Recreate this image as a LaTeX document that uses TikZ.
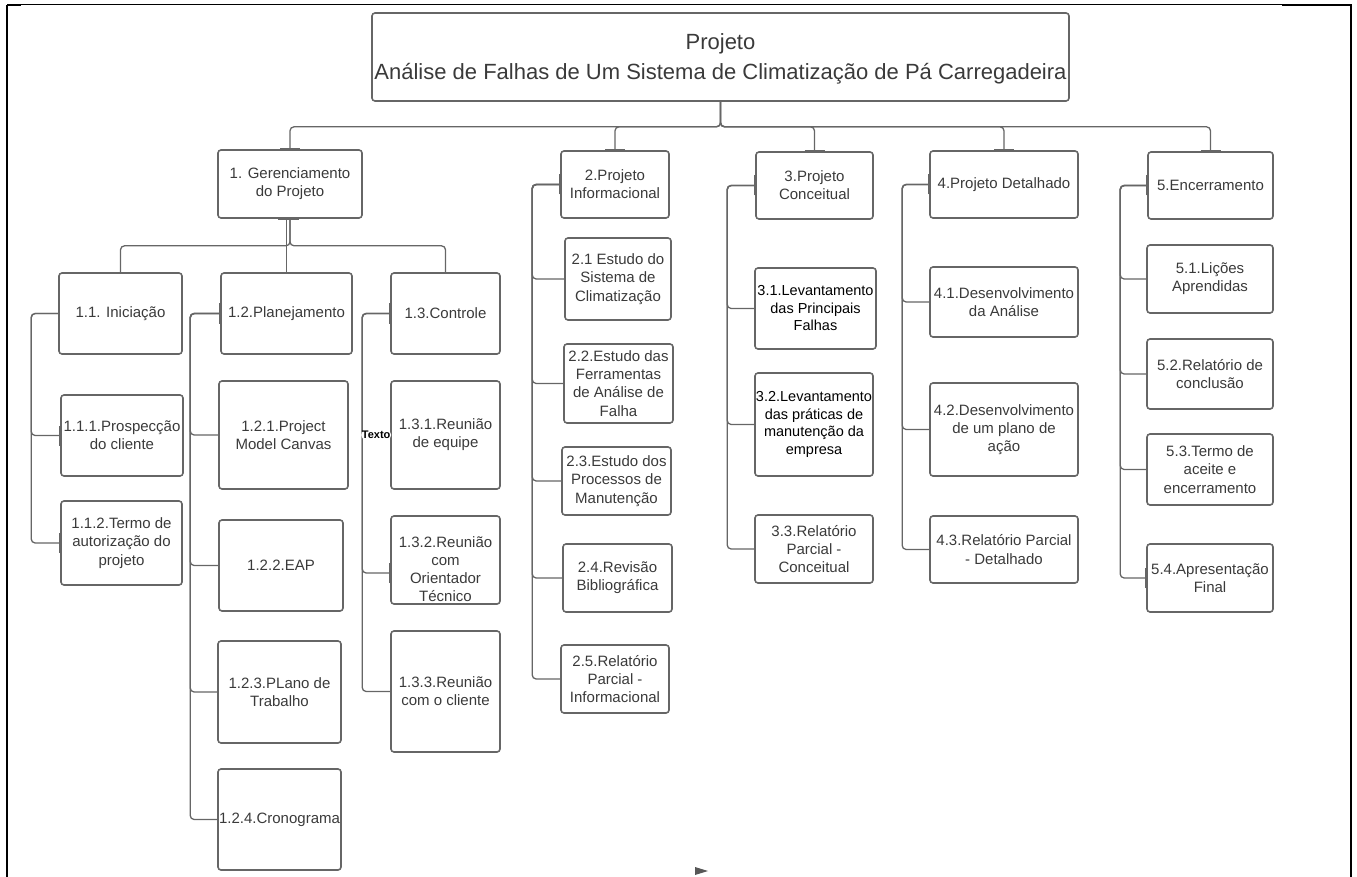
\documentclass[tikz,border=0pt]{standalone}
\usepackage{fontspec}
\setmainfont{Liberation Sans}
\usetikzlibrary{calc}
\definecolor{ln}{HTML}{666666}
\definecolor{tx}{HTML}{3A3A3A}
\newcommand\bx[7][]{\node[box,#1,minimum width={#4-#2},minimum height={#5-#3}] (#6) at ({(#2+#4)/2},{(#3+#5)/2}) {#7};}
\begin{document}
\begin{tikzpicture}[x=1pt,y=-1pt,
  box/.style={draw=ln,line width=1.6pt,rounded corners=3pt,text=tx,align=center,inner sep=0pt,font=\fontsize{15}{18.2}\selectfont},
  dark/.style={text=black,font=\fontsize{14.5}{17.5}\selectfont},
  conn/.style={draw=ln,line width=1.3pt,rounded corners=4pt},
  tick/.style={draw=ln,line width=3pt},
  lbl/.style={fill=white,inner sep=0.6pt,text=black,font=\bfseries\fontsize{11}{13}\selectfont}]
\useasboundingbox (0,0) rectangle (1357,877);
% frame
\draw[line width=2.5pt] (7,877) -- (7,5);
\draw[line width=1pt] (7,5) -- (1282,5);
\draw[line width=2.5pt] (7,5) -- (21,5);
\draw[line width=2.5pt] (1282,5) -- (1351,5) -- (1351,877);
% nodes
\bx[font=\fontsize{22}{30}\selectfont]{372}{13}{1069}{101}{title}{\rule{0pt}{19pt}Projeto\\Análise de Falhas de Um Sistema de Climatização de Pá Carregadeira}
\bx{218}{150}{362}{218}{n1}{1. Gerenciamento\\do Projeto}
\bx{59}{273}{182}{354}{n11}{1.1. Iniciação}
\bx{61}{395}{183}{476}{n111}{1.1.1.Prospecção\\do cliente}
\bx{61}{501}{182}{585}{n112}{1.1.2.Termo de\\autorização do\\projeto}
\bx{221}{273}{352}{354}{n12}{1.2.Planejamento}
\bx{219}{381}{348}{489}{n121}{1.2.1.Project\\Model Canvas}
\bx{219}{520}{343}{611}{n122}{1.2.2.EAP}
\bx{218}{641}{341}{743}{n123}{1.2.3.PLano de\\Trabalho}
\bx{218}{769}{341}{870}{n124}{1.2.4.Cronograma}
\bx{391}{273}{500}{354}{n13}{1.3.Controle}
\bx{391}{381}{500}{489}{n131}{1.3.1.Reunião\\de equipe}
\bx{391}{516}{500}{604}{n132}{\rule{0pt}{29pt}1.3.2.Reunião\\com\\Orientador\\Técnico}
\bx{391}{631}{500}{752}{n133}{1.3.3.Reunião\\com o cliente}
\bx{561}{151}{669}{218}{n2}{2.Projeto\\Informacional}
\bx{565}{238}{671}{320}{n21}{2.1 Estudo do\\Sistema de\\Climatização}
\bx{564}{344}{673}{423}{n22}{2.2.Estudo das\\Ferramentas\\de Análise de\\Falha}
\bx{562}{447}{671}{515}{n23}{2.3.Estudo dos\\Processos de\\Manutenção}
\bx{563}{544}{672}{612}{n24}{2.4.Revisão\\Bibliográfica}
\bx{561}{645}{669}{713}{n25}{2.5.Relatório\\Parcial -\\Informacional}
\bx{756}{152}{873}{219}{n3}{3.Projeto\\Conceitual}
\bx[dark]{755}{268}{876}{349}{n31}{3.1.Levantamento\\das Principais\\Falhas}
\bx[dark]{755}{373}{873}{476}{n32}{3.2.Levantamento\\das práticas de\\manutenção da\\empresa}
\bx{755}{515}{873}{583}{n33}{3.3.Relatório\\Parcial -\\Conceitual}
\bx{930}{151}{1078}{218}{n4}{4.Projeto Detalhado}
\bx{930}{267}{1078}{337}{n41}{4.1.Desenvolvimento\\da Análise}
\bx{930}{383}{1078}{476}{n42}{4.2.Desenvolvimento\\de um plano de\\ação}
\bx{930}{516}{1078}{583}{n43}{4.3.Relatório Parcial\\- Detalhado}
\bx{1148}{152}{1273}{219}{n5}{5.Encerramento}
\bx{1147}{245}{1273}{313}{n51}{5.1.Lições\\Aprendidas}
\bx{1147}{339}{1273}{409}{n52}{5.2.Relatório de\\conclusão}
\bx{1147}{434}{1273}{505}{n53}{5.3.Termo de\\aceite e\\encerramento}
\bx{1147}{544}{1273}{612}{n54}{5.4.Apresentação\\Final}
% top level connectors
\coordinate (hub) at ($(title.south)+(0,25)$);
\foreach \n in {n1,n2,n3,n4,n5} \draw[conn] (title.south) -- (hub) -| (\n.north);
\coordinate (hub1) at ($(n1.south)+(0,27)$);
\draw[conn] (n1.south) -- (hub1) -| (n11.north);
\draw[conn] (n1.south) -- (hub1) -| (n13.north);
\draw[conn] (n12.north |- n1.south) -- (n12.north);
% branch connectors
\foreach \c in {n111,n112} \draw[conn] (n11.west) -- ++(-27,0) |- (\c.west);
\foreach \c in {n121,n122,n123,n124} \draw[conn] (n12.west) -- ++(-30,0) |- (\c.west);
\draw[conn] (n13.west) -- ++(-28,0) |- ([yshift=-13pt]n132.west);
\draw[conn] (n13.west) -- ++(-28,0) |- (n133.west);
\draw[conn] (n13.west) -- ++(-28,0) |- node[lbl,pos=0.75]{Texto} (n131.west);
\foreach \c in {n21,n22,n23,n24,n25} \draw[conn] (n2.west) -- ++(-28,0) |- (\c.west);
\foreach \c in {n31,n32,n33} \draw[conn] (n3.west) -- ++(-28,0) |- (\c.west);
\foreach \c in {n41,n42,n43} \draw[conn] (n4.west) -- ++(-27,0) |- (\c.west);
\foreach \c in {n51,n52,n53,n54} \draw[conn] (n5.west) -- ++(-27,0) |- (\c.west);
% connection ticks
\foreach \n in {n1,n2,n3,n4,n5} \draw[tick] ([xshift=-10pt]\n.north) -- ([xshift=10pt]\n.north);
\draw[tick] ([xshift=-12pt]n1.south) -- ([xshift=9pt]n1.south);
\foreach \n in {n2,n3,n4,n5,n12,n13,n111,n112,n54} \draw[tick] ([yshift=-10pt]\n.west) -- ([yshift=10pt]\n.west);
\draw[tick] ([yshift=-23pt]n132.west) -- ([yshift=-3pt]n132.west);
% stray arrow mark
\coordinate (am) at (695,867);
\fill[ln!85!black] (am) -- ++(13,4) -- ++(-13,4) -- cycle;
\end{tikzpicture}
\end{document}
